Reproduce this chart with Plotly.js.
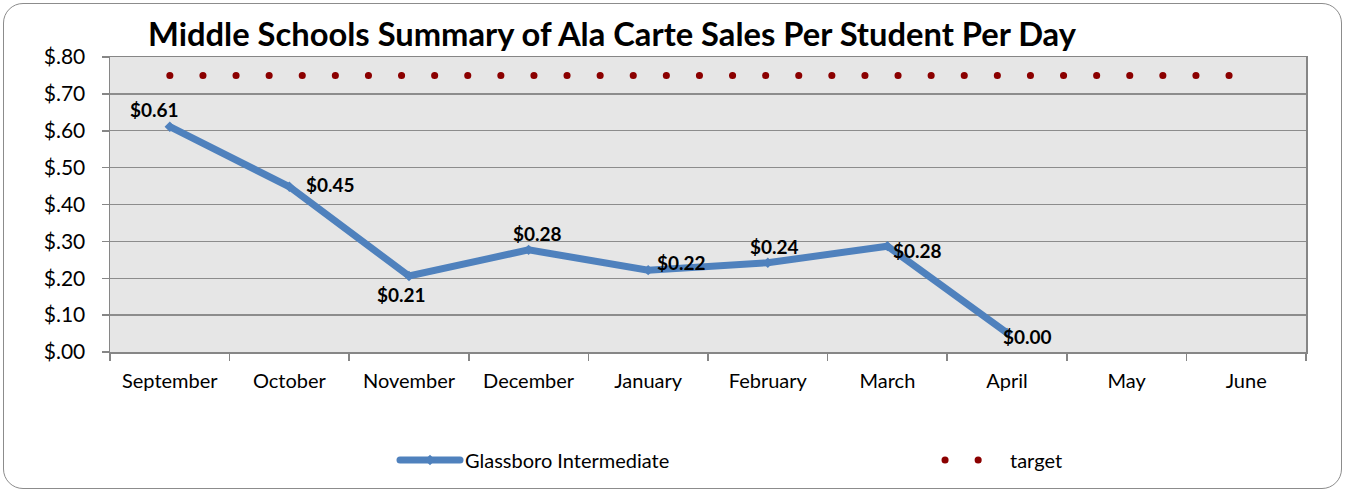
<!DOCTYPE html>
<html><head><meta charset="utf-8">
<script src="https://cdn.plot.ly/plotly-3.0.1.min.js"></script>
<style>
html,body{margin:0;padding:0;background:#fff;}
#frame{position:absolute;left:3px;top:3px;width:1337px;height:484px;border:1.5px solid #8c8c8c;border-radius:20px;}
#chart{position:absolute;left:0;top:0;width:1345px;height:493px;}
</style></head><body>
<div id="frame"></div>
<div id="chart"></div>
<script>
const months = ['September','October','November','December','January','February','March','April','May','June'];
const schoolMonths = ['September','October','November','December','January','February','March','April'];
const schoolValues = [0.611, 0.448, 0.206, 0.277, 0.222, 0.242, 0.287, 0.052];
const schoolLabels = ['$0.61','$0.45','$0.21','$0.28','$0.22','$0.24','$0.28','$0.00'];
const targetValues = [0.75, 0.75, 0.75, 0.75, 0.75, 0.75, 0.75, 0.75, 0.75, 0.75];
const yTickVals = [0, 0.1, 0.2, 0.3, 0.4, 0.5, 0.6, 0.7, 0.8];
const yTickText = ['$.00','$.10','$.20','$.30','$.40','$.50','$.60','$.70','$.80'];

const FONT = 'Lato, "Open Sans", sans-serif';
const labelShift = [[-15,17],[41,2],[-8,-18],[9,16],[33,8],[7,16],[30,-4],[20,-4]];

const annotations = schoolMonths.map((m, i) => ({
  x: m, y: schoolValues[i], xref: 'x', yref: 'y',
  text: schoolLabels[i], showarrow: false,
  xshift: labelShift[i][0], yshift: labelShift[i][1],
  font: {family: FONT, size: 19, color: '#000', weight: 'bold'}
}));

const traces = [
  {
    x: schoolMonths, y: schoolValues, type: 'scatter', mode: 'lines+markers',
    name: 'Glassboro Intermediate',
    line: {color: '#4f81bd', width: 7},
    marker: {symbol: 'diamond', size: 8, color: '#4f81bd'},
    hoverinfo: 'skip'
  },
  {
    x: months, y: targetValues, type: 'scatter', mode: 'lines',
    name: 'target',
    line: {color: '#8b0000', width: 7, dash: '0.1px,33px'},
    hoverinfo: 'skip'
  }
];

const layout = {
  width: 1345, height: 493,
  margin: {l: 110, r: 39, t: 57, b: 141},
  paper_bgcolor: 'rgba(0,0,0,0)',
  plot_bgcolor: '#e6e6e6',
  title: {
    text: 'Middle Schools Summary of Ala Carte Sales Per Student Per Day',
    font: {family: FONT, size: 32.7, color: '#000', weight: 'bold'},
    xref: 'container', x: 0.455, xanchor: 'center',
    yref: 'container', y: 1 - 35/493, yanchor: 'middle'
  },
  xaxis: {
    type: 'category', categoryorder: 'array', categoryarray: months,
    range: [-0.5, 9.5],
    tickson: 'boundaries', ticks: 'outside', ticklen: 7, tickcolor: '#868686', tickwidth: 1.5,
    showline: true, linecolor: '#868686', linewidth: 1.5, mirror: true,
    showgrid: false, ticklabelstandoff: 10,
    tickfont: {family: FONT, size: 20, color: '#000'}
  },
  yaxis: {
    range: [0, 0.8], tickvals: yTickVals, ticktext: yTickText,
    ticks: 'outside', ticklen: 7, tickcolor: '#868686', tickwidth: 1.5,
    showline: true, linecolor: '#868686', linewidth: 1.5, mirror: true,
    showgrid: true, gridcolor: '#8c8c8c', gridwidth: 1.3,
    zeroline: false, ticklabelstandoff: 12,
    tickfont: {family: FONT, size: 21, color: '#000'}
  },
  showlegend: true,
  legend: {
    orientation: 'h', xref: 'container', yref: 'container',
    x: 395/1345, xanchor: 'left', y: 33/493, yanchor: 'middle',
    itemwidth: 60,
    entrywidth: 470, entrywidthmode: 'pixels',
    font: {family: FONT, size: 20, color: '#000'},
    bgcolor: 'rgba(0,0,0,0)'
  },
  annotations: annotations
};

Plotly.newPlot('chart', traces, layout, {staticPlot: true}).then(() => {
  const tr = document.querySelectorAll('#chart .scatterlayer .trace');
  if (tr[1]) tr[1].querySelectorAll('path.js-line').forEach(p => p.style.strokeLinecap = 'round');
  const lg = document.querySelectorAll('#chart .legend .traces');
  if (lg[1]) lg[1].querySelectorAll('path.js-line').forEach(p => {
    p.style.strokeLinecap = 'round';
    p.style.strokeDasharray = '0.1px,33px';
  });
  if (lg[0]) lg[0].querySelectorAll('path.js-line').forEach(p => p.style.strokeLinecap = 'round');
});
</script>
</body></html>
